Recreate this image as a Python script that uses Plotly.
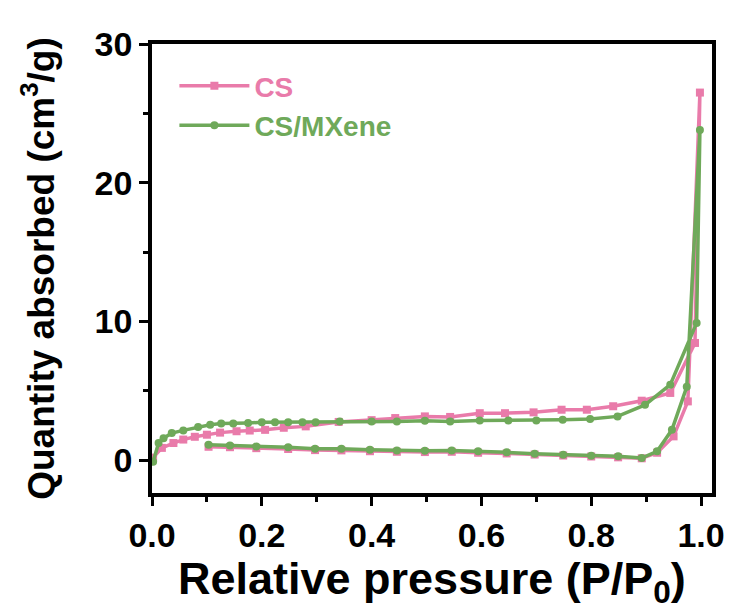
import plotly.graph_objects as go

# CS (pink) isotherm: adsorption branch then desorption branch
cs_x = [0.002, 0.018, 0.039, 0.057, 0.078, 0.100, 0.124, 0.154, 0.178, 0.206, 0.240, 0.280, 0.340, 0.400, 0.443, 0.497,
        0.543, 0.597, 0.643, 0.695, 0.746, 0.792, 0.840, 0.892, 0.944, 0.989, 0.998,
        0.976, 0.950, 0.920, 0.892, 0.849, 0.800, 0.749, 0.697, 0.646, 0.594, 0.546, 0.497, 0.446, 0.397, 0.345,
        0.297, 0.248, 0.190, 0.142, 0.103]
cs_y = [0.2, 0.9, 1.25, 1.5, 1.7, 1.85, 2.0, 2.1, 2.15, 2.2, 2.35, 2.45, 2.77, 2.9, 3.05, 3.17,
        3.13, 3.4, 3.4, 3.46, 3.65, 3.65, 3.9, 4.3, 4.86, 8.46, 26.5,
        4.25, 1.73, 0.55, 0.15, 0.22, 0.28, 0.35, 0.42, 0.50, 0.55, 0.62, 0.60, 0.62, 0.66, 0.72,
        0.74, 0.82, 0.88, 0.95, 0.98]

# CS/MXene (green) isotherm
mx_x = [0.002, 0.012, 0.021, 0.036, 0.057, 0.084, 0.106, 0.126, 0.148, 0.175, 0.200, 0.224, 0.248, 0.274, 0.298,
        0.342, 0.400, 0.446, 0.497, 0.543, 0.597, 0.649, 0.700, 0.748, 0.798, 0.848, 0.898, 0.944, 0.992, 0.998,
        0.974, 0.947, 0.920, 0.892, 0.849, 0.800, 0.749, 0.697, 0.646, 0.594, 0.546, 0.497, 0.446, 0.397, 0.345,
        0.297, 0.248, 0.190, 0.142, 0.103]
mx_y = [-0.1, 1.25, 1.6, 1.97, 2.16, 2.4, 2.57, 2.65, 2.65, 2.7, 2.74, 2.74, 2.74, 2.74, 2.74,
        2.8, 2.8, 2.8, 2.85, 2.8, 2.88, 2.88, 2.88, 2.93, 2.98, 3.17, 4.0, 5.45, 9.9, 23.8,
        5.3, 2.2, 0.65, 0.17, 0.29, 0.34, 0.41, 0.48, 0.58, 0.65, 0.72, 0.70, 0.72, 0.77, 0.84,
        0.84, 0.94, 1.0, 1.08, 1.13]

x_ticks = [0.0, 0.2, 0.4, 0.6, 0.8, 1.0]
x_tick_labels = ["0.0", "0.2", "0.4", "0.6", "0.8", "1.0"]
y_ticks = [0, 10, 20, 30]
y_tick_labels = ["0", "10", "20", "30"]

PINK = "#E97BAA"
GREEN = "#6FA95A"
FONT = "Liberation Sans, Arial, sans-serif"

fig = go.Figure()
fig.add_trace(go.Scatter(
    x=cs_x, y=cs_y, mode="lines+markers",
    name=f"<span style='color:{PINK}'>CS</span>",
    line=dict(color=PINK, width=3.5),
    marker=dict(symbol="square", size=8, color=PINK),
))
fig.add_trace(go.Scatter(
    x=mx_x, y=mx_y, mode="lines+markers",
    name=f"<span style='color:{GREEN}'>CS/MXene</span>",
    line=dict(color=GREEN, width=3.5),
    marker=dict(symbol="circle", size=8, color=GREEN),
))

axis_common = dict(
    showline=True, linecolor="black", linewidth=3.5, mirror=True,
    ticks="outside", tickcolor="black", tickwidth=3, ticklen=9,
    showgrid=False, zeroline=False, automargin=False,
    tickfont=dict(family=FONT, size=34, color="black", weight="bold"),
)

fig.update_xaxes(
    range=[0, 1.02], tickvals=x_ticks, ticktext=x_tick_labels,
    minor=dict(dtick=0.1, ticks="outside", ticklen=5, tickwidth=3, tickcolor="black"),
    **axis_common,
)
fig.update_yaxes(
    range=[-2.35, 30], tickvals=y_ticks, ticktext=y_tick_labels,
    minor=dict(tickvals=[5, 15, 25], ticks="outside", ticklen=5, tickwidth=3, tickcolor="black"),
    title=dict(text="Quantity absorbed (cm<sup>3</sup>/g)",
               font=dict(family=FONT, size=37, color="black", weight="bold"), standoff=30),
    **axis_common,
)

fig.add_annotation(
    text="Relative pressure (P/P<sub>0</sub>)", xref="paper", yref="paper",
    x=0.5, y=-0.129, xanchor="center", yanchor="top", showarrow=False,
    font=dict(family=FONT, size=45, color="black", weight="bold"),
)

fig.update_layout(
    width=725, height=605,
    margin=dict(l=144, r=21, t=36, b=120),
    plot_bgcolor="white", paper_bgcolor="white",
    legend=dict(x=0.04, y=0.962, xanchor="left", yanchor="top",
                font=dict(family=FONT, size=28, weight="bold"),
                bgcolor="rgba(0,0,0,0)", itemwidth=70, tracegroupgap=0),
)

fig.write_html("out.html")
